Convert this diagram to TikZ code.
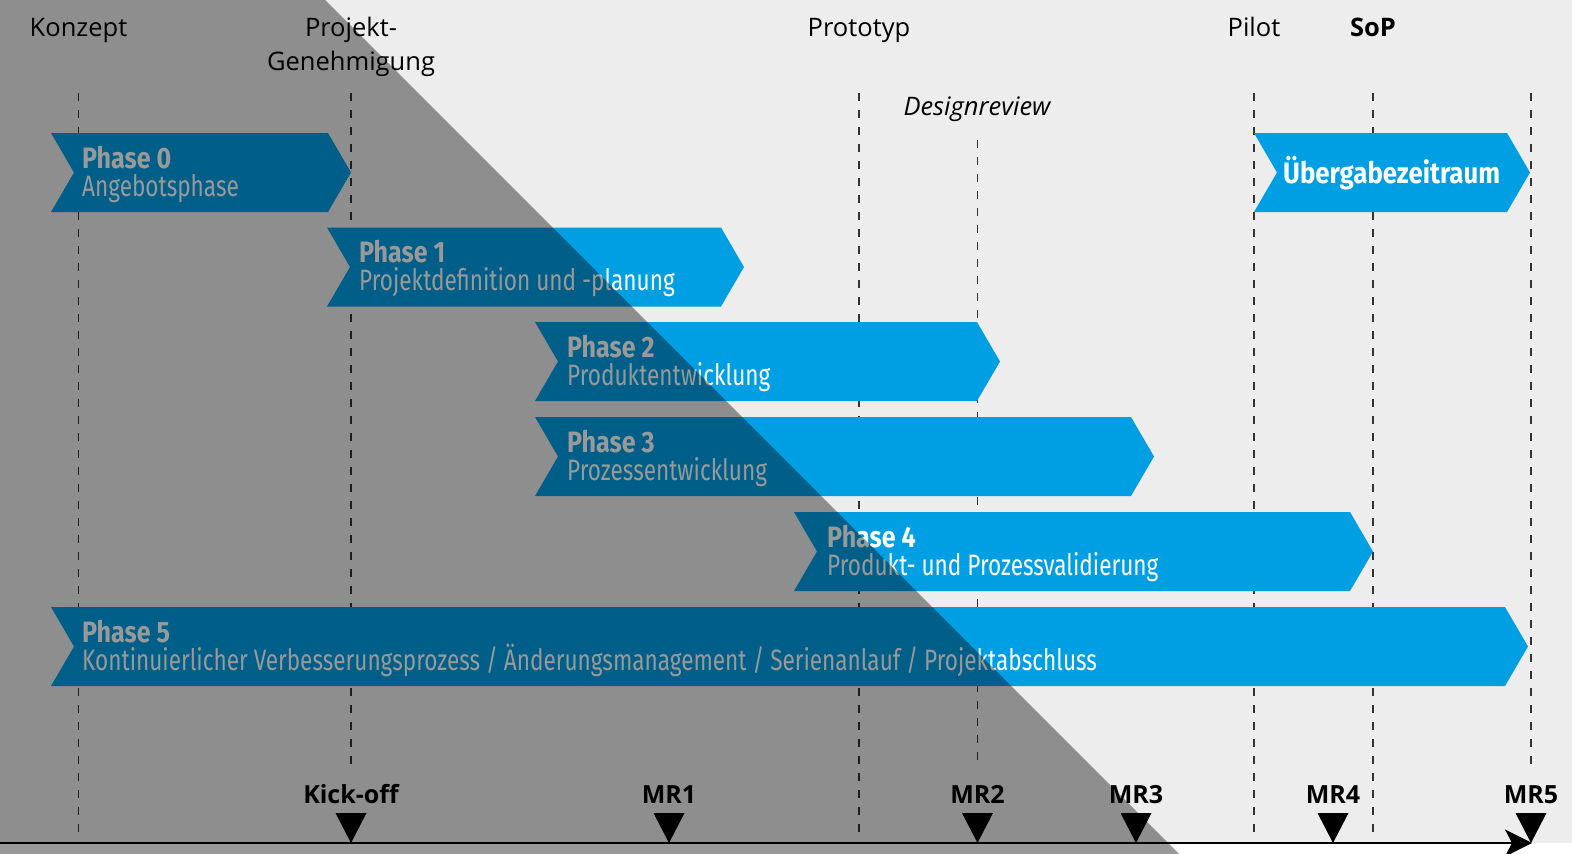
\documentclass[tikz,border=0pt]{standalone}
\usepackage{fontspec}
\setmainfont{Open Sans}
\newfontfamily\condT[FakeStretch=0.85]{Fira Sans}
\newfontfamily\condU[FakeStretch=0.875]{Fira Sans}
\newfontfamily\condS[FakeStretch=0.765]{Fira Sans}
\usetikzlibrary{arrows.meta}
\definecolor{bgl}{HTML}{EDEDED}
\definecolor{pblue}{HTML}{009FE3}
\definecolor{dashc}{HTML}{333333}
\tikzset{
  chev/.style={fill=pblue},
  guide/.style={draw=dashc, line width=1.7pt, dash pattern=on 8pt off 9pt},
  toplbl/.style={font=\fontsize{25.5}{34}\selectfont, text=black, inner sep=0pt, anchor=base},
  mslbl/.style={font=\bfseries\fontsize{25}{28}\selectfont, text=black, inner sep=0pt, anchor=base},
  ptitle/.style={font=\condT\bfseries\fontsize{29.5}{34}\selectfont, text=white, inner sep=0pt, anchor=base west},
  psub/.style={font=\condS\fontsize{29.5}{34}\selectfont, text=white, inner sep=0pt, anchor=base west},
  mstri/.style={fill=black},
  shadeover/.style={fill=black, fill opacity=0.4}
}
% #1 left x, #2 top y, #3 tip x
\newcommand{\chevron}[3]{%
  \fill[chev] (#1,#2) -- ({#3-23},#2) -- (#3,{#2+39.5}) -- ({#3-23},{#2+79})
    -- (#1,{#2+79}) -- ({#1+23},{#2+39.5}) -- cycle;}
\begin{document}
\begin{tikzpicture}[x=1pt,y=-1pt]
\useasboundingbox (0,0) rectangle (1572,854);
\fill[white] (0,0) rectangle (1572,854);
\fill[bgl] (0,0) rectangle (1572,843);

% guide lines
\coordinate (gKa) at (78.5,93);   \coordinate (gKb) at (78.5,838);
\coordinate (gPa) at (351,93);    \coordinate (gPb) at (351,770);
\coordinate (gTa) at (859,93);    \coordinate (gTb) at (859,838);
\coordinate (gDa) at (977.5,140); \coordinate (gDb) at (977.5,767);
\coordinate (gLa) at (1254,93);   \coordinate (gLb) at (1254,838);
\coordinate (gSa) at (1373,93);   \coordinate (gSb) at (1373,838);
\coordinate (gMa) at (1531,93);   \coordinate (gMb) at (1531,770);
\foreach \g in {K,P,T,D,L,S,M} \draw[guide] (g\g a) -- (g\g b);

% phase arrows
\chevron{51}{133}{351}
\chevron{327}{227.5}{744}
\chevron{535}{322}{1000}
\chevron{535}{417}{1154}
\chevron{794}{512}{1373}
\chevron{51}{607}{1528}
\chevron{1254}{133}{1530}

\node[ptitle] (t0) at (82,168) {Phase 0};
\node[psub]   (s0) at (82,196) {Angebotsphase};
\node[ptitle] (t1) at (359,262.5) {Phase 1};
\node[psub]   (s1) at (359,290.5) {Projektdefinition und -planung};
\node[ptitle] (t2) at (567,357) {Phase 2};
\node[psub]   (s2) at (567,385) {Produktentwicklung};
\node[ptitle] (t3) at (567,452) {Phase 3};
\node[psub]   (s3) at (567,480) {Prozessentwicklung};
\node[ptitle] (t4) at (827,547) {Phase 4};
\node[psub]   (s4) at (827,575) {Produkt- und Prozessvalidierung};
\node[ptitle] (t5) at (82,642) {Phase 5};
\node[psub]   (s5) at (82,670) {Kontinuierlicher Verbesserungsprozess / Änderungsmanagement / Serienanlauf / Projektabschluss};
\node[ptitle, font=\condU\bfseries\fontsize{29.5}{34}\selectfont] (tu) at (1283,183) {Übergabezeitraum};

% top labels
\node[toplbl] (lKon) at (78.5,36) {Konzept};
\node[toplbl] (lPro) at (351,36) {Projekt-};
\node[toplbl] (lGen) at (351,70) {Genehmigung};
\node[toplbl] (lPrt) at (859,36) {Prototyp};
\node[toplbl, font=\itshape\fontsize{25.5}{34}\selectfont] (lDes) at (977,115) {Designreview};
\node[toplbl] (lPil) at (1254,36) {Pilot};
\node[toplbl, font=\bfseries\fontsize{25.5}{34}\selectfont] (lSoP) at (1373,36) {SoP};

% time axis
\coordinate (axL) at (0,843);
\coordinate (axR) at (1532,843);
\draw[line width=2pt, -{Stealth[length=27pt,width=27pt,inset=7pt]}] (axL) -- (axR);

% milestones
\foreach \n/\x/\t in {mK/351/Kick-off, m1/669/MR1, m2/977.5/MR2, m3/1136/MR3, m4/1333/MR4, m5/1531/MR5}{
  \coordinate (\n) at (\x,843);
  \fill[mstri] (\n) -- ++(-15.5,-30) -- ++(31,0) -- cycle;
  \node[mslbl] (l\n) at (\x,803) {\t};
}

% grey overlay
\fill[shadeover] (0,0) -- (325,0) -- (1179,854) -- (0,854) -- cycle;
\end{tikzpicture}
\end{document}
